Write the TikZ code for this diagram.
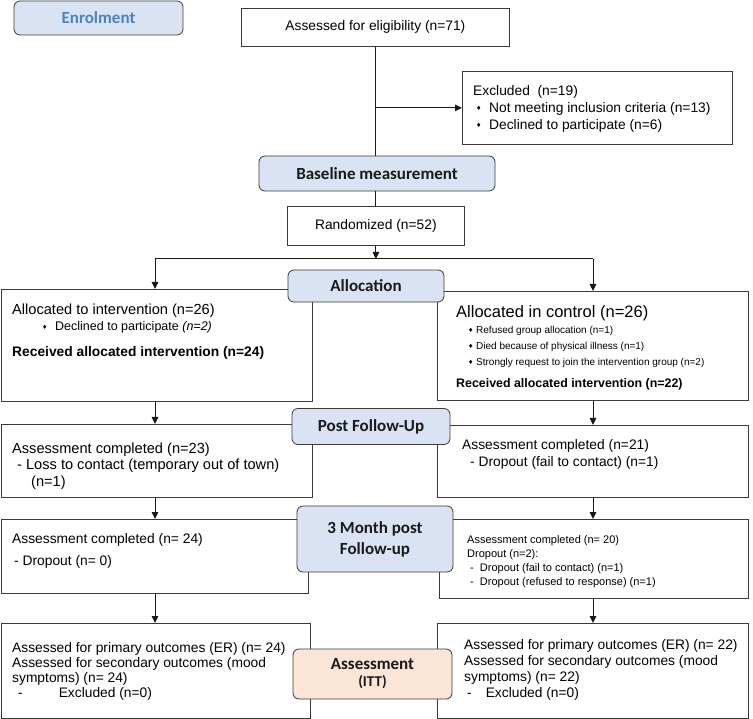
\documentclass[tikz,border=0pt]{standalone}
\usepackage{fontspec}
\setmainfont{Liberation Sans}
\newfontfamily\carlito{Carlito}
\newfontfamily\dejavu{DejaVu Sans}
\usetikzlibrary{arrows.meta}

\definecolor{stagefill}{HTML}{DAE3F3}
\definecolor{ittfill}{HTML}{FBE5D6}
\definecolor{enrolblue}{HTML}{4F81BD}
\definecolor{boxline}{HTML}{3A3A3A}
\definecolor{stagetext}{HTML}{1A1A1A}

\newcommand{\fs}[2]{\fontsize{#1}{#2}\selectfont}
\newcommand{\bul}[1][13pt]{\makebox[#1][l]{\raisebox{1.4pt}{\dejavu\fs{6}{6}♦}}}

\tikzset{
  box/.style={draw=boxline, line width=0.8pt, fill=white, inner sep=0pt,
    anchor=north west, font=\fs{13.8}{17}},
  stage/.style={draw=boxline, fill=stagefill, rounded corners=6pt, line width=0.8pt,
    inner sep=0pt, align=center, text=stagetext, font=\carlito\bfseries\fs{17}{21}},
  txt/.style={anchor=north west, inner sep=0pt, align=left, font=\fs{13.8}{17}},
  link/.style={draw=black!90, line width=1pt},
}

\begin{document}
\begin{tikzpicture}[x=1pt, y=-1pt, >={Triangle[length=7pt,width=6.5pt]}]
\useasboundingbox (0,0) rectangle (753,719);

% boxes
\node[box, minimum width=268, minimum height=38] (elig) at (241,8) {Assessed for eligibility (n=71)};
\node[box, minimum width=270, minimum height=73] (excl) at (462,71) {};
\node[box, minimum width=177, minimum height=39] (rand) at (287,206) {Randomized (n=52)};
\node[box, minimum width=311, minimum height=112] (int) at (1,289) {};
\node[box, minimum width=311, minimum height=109] (ctrl) at (437,291) {};
\node[box, minimum width=311, minimum height=73] (postl) at (1,424) {};
\node[box, minimum width=311, minimum height=72] (postr) at (437,425) {};
\node[box, minimum width=307, minimum height=74] (mthl) at (1,519) {};
\node[box, minimum width=309, minimum height=79] (mthr) at (439,519) {};
\node[box, minimum width=309, minimum height=95] (finl) at (1,623) {};
\node[box, minimum width=311, minimum height=95] (finr) at (437,623) {};

% box texts
\node[txt] (excl-t) at (473,85) {Excluded\ \ (n=19)\\
  \hspace*{3pt}\bul Not meeting inclusion criteria (n=13)\\
  \hspace*{3pt}\bul Declined to participate (n=6)};

\node[txt, font=\fs{14.6}{17}] (int-t1) at (12,303.5) {Allocated to intervention (n=26)};
\node[txt, font=\fs{12.5}{16}] (int-t2) at (42,321.4) {\bul Declined to participate \textit{(n=2)}};
\node[txt, font=\bfseries\fs{13.8}{17}] (int-t3) at (12,346) {Received allocated intervention (n=24)};

\node[txt, font=\fs{16.5}{19}] (ctrl-t1) at (456,305.5) {Allocated in control (n=26)};
\node[txt, font=\fs{10}{16}] (ctrl-t2) at (468,326.3) {\bul[8pt]Refused group allocation (n=1)\\
  \bul[8pt]Died because of physical illness (n=1)\\
  \bul[8pt]Strongly request to join the intervention group (n=2)};
\node[txt, font=\bfseries\fs{12.4}{15}] (ctrl-t3) at (456,378.5) {Received allocated intervention (n=22)};

\node[txt, font=\fs{14.6}{16.5}] (postl-t) at (12,442.5) {Assessment completed (n=23)\\
  \hspace*{5pt}- Loss to contact (temporary out of town)\\
  \hspace*{19pt}(n=1)};
\node[txt] (postr-t) at (462,439) {Assessment completed (n=21)\\
  \hspace*{8pt}- Dropout (fail to contact) (n=1)};

\node[txt] (mthl-t) at (12,533) {Assessment completed (n= 24)\\[5pt]
  \hspace*{2pt}- Dropout (n= 0)};
\node[txt, font=\fs{11}{14}] (mthr-t) at (467,535) {Assessment completed (n= 20)\\
  Dropout (n=2):\\
  \hspace*{3pt}-\ \ Dropout (fail to contact) (n=1)\\
  \hspace*{3pt}-\ \ Dropout (refused to response) (n=1)};

\node[txt, font=\fs{13.8}{15}] (finl-t) at (12,642) {Assessed for primary outcomes (ER) (n= 24)\\
  Assessed for secondary outcomes (mood\\
  symptoms) (n= 24)\\
  \hspace*{6pt}-\hspace*{36pt}Excluded (n=0)};
\node[txt, font=\fs{13.8}{16}] (finr-t) at (464,639) {Assessed for primary outcomes (ER) (n= 22)\\
  Assessed for secondary outcomes (mood\\
  symptoms) (n= 22)\\
  \hspace*{3pt}-\hspace*{14pt}Excluded (n=0)};

% stages
\node[stage, minimum width=169, minimum height=34, text=enrolblue] (enrol) at (98.5,18) {Enrolment};
\node[stage, minimum width=236, minimum height=35] (base) at (377,173.5) {Baseline measurement};
\node[stage, minimum width=156, minimum height=32] (alloc) at (366,286) {Allocation};
\node[stage, minimum width=158, minimum height=36] (post) at (371,426.5) {Post Follow-Up};
\node[stage, minimum width=156, minimum height=66] (three) at (375,539) {3 Month post\\Follow-up};
\node[stage, minimum width=159, minimum height=50, fill=ittfill] (itt) at (372.5,674) {Assessment\\[-4pt]{\fs{15}{15}(ITT)}};

% connectors
\coordinate (lsplit) at (155,259);
\coordinate (rsplit) at (593,259);
\draw[link] (elig.south) -- (elig.south |- base.north);
\draw[link, ->] (elig.south |- excl.west) -- (excl.west);
\draw[link] (rand.north |- base.south) -- (rand.north);
\draw[link, ->] (rand.south) -- (rand.south |- lsplit);
\draw[link] (lsplit) -- (rsplit);
\draw[link, ->] (lsplit) -- (lsplit |- int.north);
\draw[link, ->] (rsplit) -- (rsplit |- ctrl.north);
\draw[link, ->] (lsplit |- int.south) -- (lsplit |- postl.north);
\draw[link, ->] (rsplit |- ctrl.south) -- (rsplit |- postr.north);
\draw[link, ->] (lsplit |- postl.south) -- (lsplit |- mthl.north);
\draw[link, ->] (rsplit |- postr.south) -- (rsplit |- mthr.north);
\draw[link, ->] (lsplit |- mthl.south) -- (lsplit |- finl.north);
\draw[link, ->] (rsplit |- mthr.south) -- (rsplit |- finr.north);
\end{tikzpicture}
\end{document}
